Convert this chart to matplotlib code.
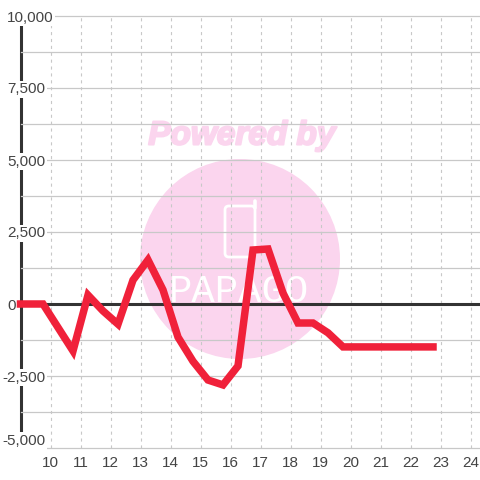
import matplotlib
matplotlib.use("Agg")
import matplotlib.pyplot as plt
import matplotlib.patheffects as pe
from matplotlib.lines import Line2D
from matplotlib.patches import Circle, FancyBboxPatch

plt.rcParams['font.family'] = ['Liberation Sans', 'DejaVu Sans']

hours = [9, 9.75, 10.75, 11.25, 11.75, 12.25, 12.75, 13.25, 13.75, 14.25, 14.75,
         15.25, 15.75, 16.25, 16.75, 17.25, 17.75, 18.25, 18.75, 19.25, 19.75,
         20.25, 20.75, 21.25, 21.75, 22.25, 22.75]
values = [0, 0, -1630, 310, -240, -700, 830, 1530, 490, -1150, -1990,
          -2640, -2810, -2150, 1875, 1910, 380, -660, -660, -1000, -1490,
          -1490, -1490, -1490, -1490, -1490, -1490]
x_ticks = list(range(10, 25))
y_major = [-5000, -2500, 0, 2500, 5000, 7500, 10000]
y_minor = [-3750, -1250, 1250, 3750, 6250, 8750]
y_labels = ['-5,000', '-2,500', '0', '2,500', '5,000', '7,500', '10,000']

W = 480
fig = plt.figure(figsize=(4.8, 4.8), dpi=100, facecolor='white')
ax = fig.add_axes([20.5 / W, (W - 448) / W, (W - 20.5) / W, 432 / W])
ax.set_xlim(9, 9 + (W - 20.5) / 30)
ax.set_ylim(-5000, 10000)
ax.set_axisbelow(True)

# watermark, in figure pixels
pink = '#fbd5ee'
def px(x, y):
    return x / W, 1 - y / W
fig.patches.append(Circle(px(240, 259), 100 / W, transform=fig.transFigure, fc=pink, ec='none', zorder=-5))
fig.patches.append(FancyBboxPatch(px(225, 257), 30 / W, 51 / W, boxstyle='round,pad=0,rounding_size=0.008',
                                  transform=fig.transFigure, fc='none', ec='white', lw=2, zorder=-4))
fig.add_artist(Line2D([255 / W, 255 / W], [1 - 208 / W, 1 - 201 / W], transform=fig.transFigure,
                      color='white', lw=2.6, solid_capstyle='round', zorder=-4))
t = fig.text(*px(242, 136), 'Powered by', color=pink, fontsize=24, fontweight='bold', fontstyle='italic',
             ha='center', va='center', zorder=-4)
t.set_path_effects([pe.withStroke(linewidth=1.5, foreground=pink)])
fig.text(*px(239, 292), 'PAPAGO', color='white', fontsize=28, family='Liberation Mono',
         ha='center', va='center', zorder=-4)
ax.patch.set_alpha(0)

ax.set_xticks(x_ticks)
ax.set_yticks(y_major)
ax.set_yticks(y_minor, minor=True)
ax.set_yticklabels(y_labels)
ax.grid(True, axis='y', which='both', color='#c8c8c8', lw=0.9, clip_on=False)
ax.grid(True, axis='x', color='#c8c8c8', lw=0.8, ls=(0, (2.8, 3.4)))
ax.tick_params(axis='both', which='both', length=0, labelsize=11, labelcolor='#444444')
ax.tick_params(axis='x', pad=6)

for s in ['top', 'right', 'bottom']:
    ax.spines[s].set_visible(False)
ax.spines['left'].set_color('#333333')
ax.spines['left'].set_linewidth(2.2)
ax.spines['left'].set_capstyle('butt')
ax.spines['left'].set_zorder(0.4)

for tick, v in zip(ax.yaxis.get_major_ticks(), y_major):
    tick.set_pad((18.5 if v < 0 else 13.5) * 0.72)
    tick.label1.set_horizontalalignment('left')
    tick.label1.set_bbox(dict(fc='white', ec='none', pad=1.2))
    if v == -5000:
        tick.label1.set_verticalalignment('bottom')

ax.hlines(0, ax.get_xlim()[0], ax.get_xlim()[1], color='#333333', lw=2.2, zorder=1)
ax.plot(hours, values, color='#f0213a', lw=5.4, solid_joinstyle='miter', solid_capstyle='projecting',
        clip_on=False, zorder=3)

fig.savefig('out.png', dpi=100, facecolor='white')
